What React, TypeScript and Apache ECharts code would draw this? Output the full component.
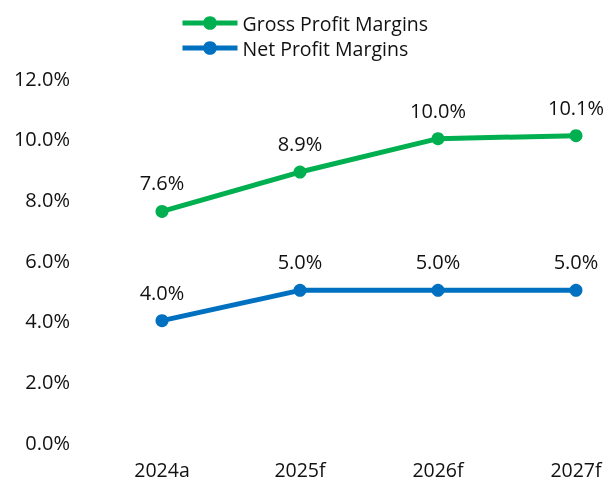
import React, { useEffect, useRef } from "react";
import * as echarts from "echarts";

const categories = ["2024a", "2025f", "2026f", "2027f"];
const grossMargins = [7.6, 8.9, 10.0, 10.1];
const netMargins = [4.0, 5.0, 5.0, 5.0];
const seriesNames = ["Gross Profit Margins", "Net Profit Margins"];

const FONT = "'Open Sans', Lato, sans-serif";
const FS = 20;

export default function App() {
  const ref = useRef<HTMLDivElement>(null);
  useEffect(() => {
    const chart = echarts.init(ref.current!, null, { renderer: "svg" });
    const labelCfg = {
      show: true,
      position: "top",
      distance: 12,
      fontSize: FS,
      fontFamily: FONT,
      color: "#111",
      formatter: (p: any) => p.value.toFixed(1) + "%",
    };
    chart.setOption({
      animation: false,
      legend: {
        orient: "vertical",
        left: 180,
        top: 12,
        padding: 0,
        itemWidth: 55,
        itemHeight: 17,
        itemGap: 3,
        lineStyle: { width: 5 },
        textStyle: { fontSize: 19.5, fontFamily: FONT, color: "#111", lineHeight: 22 },
        data: seriesNames,
      },
      grid: { left: 162, top: 78, height: 364, right: 31 },
      xAxis: {
        type: "category",
        data: categories,
        boundaryGap: false,
        axisLine: { show: false },
        axisTick: { show: false },
        axisLabel: { fontSize: 19.5, fontFamily: FONT, color: "#111", margin: 18, lineHeight: 18 },
      },
      yAxis: {
        type: "value",
        min: 0,
        max: 12,
        interval: 2,
        splitLine: { show: false },
        axisLine: { show: false },
        axisTick: { show: false },
        axisLabel: {
          fontSize: FS,
          fontFamily: FONT,
          color: "#111",
          margin: 92,
          formatter: (v: number) => v.toFixed(1) + "%",
        },
      },
      series: [
        {
          name: seriesNames[0],
          type: "line",
          data: grossMargins,
          symbol: "circle",
          symbolSize: 13,
          color: "#00B050",
          lineStyle: { width: 5, color: "#00B050" },
          itemStyle: { color: "#00B050" },
          label: labelCfg,
        },
        {
          name: seriesNames[1],
          type: "line",
          data: netMargins,
          symbol: "circle",
          symbolSize: 13,
          color: "#0070C0",
          lineStyle: { width: 5, color: "#0070C0" },
          itemStyle: { color: "#0070C0" },
          label: labelCfg,
        },
      ],
    });
    return () => chart.dispose();
  }, []);
  return (
    <div
      ref={ref}
      style={{ position: "fixed", left: 0, top: 0, width: 607, height: 481 }}
    />
  );
}
